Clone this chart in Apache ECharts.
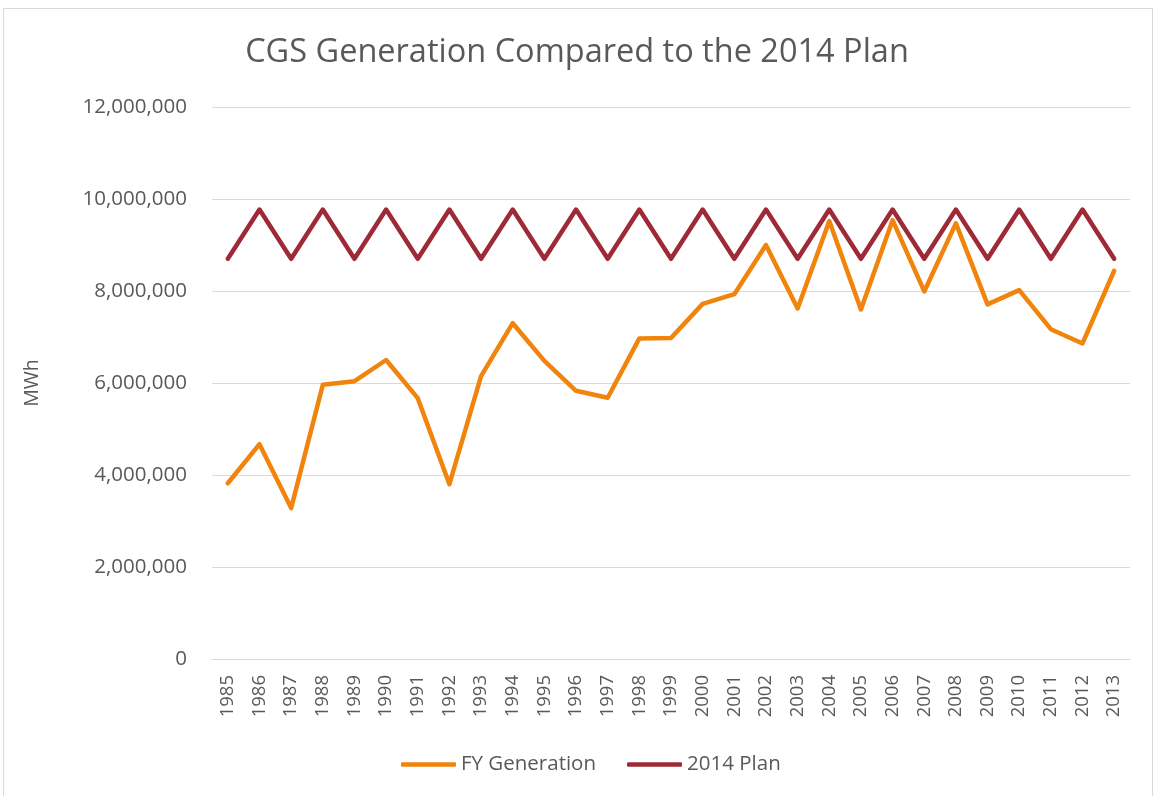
<!DOCTYPE html>
<html>
<head>
    <meta charset="UTF-8">
    <title>CGS Generation</title>
    <style>
        * {
            margin: 0;
            padding: 0
        }

        body {
            background: #fff;
        }

        .frame {
            position: absolute;
            left: 3px;
            top: 8px;
            width: 1148px;
            height: 792px;
            border: 1px solid #d9d9d9;
        }

        .chart {
            position: absolute;
            left: 0;
            top: 0;
            width: 1154px;
            height: 796px;
        }
    </style>
</head>
<body>
<div class="frame"></div>
<div class="chart" id="chart"></div>
<script type="text/javascript" src="https://cdn.jsdelivr.net/npm/echarts@6/dist/echarts.min.js"></script>
<script type="text/javascript">
    // 年份
    var years = ['1985', '1986', '1987', '1988', '1989', '1990', '1991', '1992', '1993', '1994',
        '1995', '1996', '1997', '1998', '1999', '2000', '2001', '2002', '2003', '2004',
        '2005', '2006', '2007', '2008', '2009', '2010', '2011', '2012', '2013'];
    // 实际发电量
    var fyGeneration = [3820000, 4670000, 3280000, 5960000, 6040000, 6500000, 5670000, 3800000, 6150000, 7300000,
        6480000, 5830000, 5680000, 6970000, 6980000, 7720000, 7930000, 9000000, 7620000, 9520000,
        7600000, 9540000, 7990000, 9470000, 7710000, 8020000, 7170000, 6860000, 8440000];
    // 2014计划
    var plan2014 = [8700000, 9770000, 8700000, 9770000, 8700000, 9770000, 8700000, 9770000, 8700000, 9770000,
        8700000, 9770000, 8700000, 9770000, 8700000, 9770000, 8700000, 9770000, 8700000, 9770000,
        8700000, 9770000, 8700000, 9770000, 8700000, 9770000, 8700000, 9770000, 8700000];

    var font = 'Open Sans';
    var textColor = '#595959';

    var myChart = echarts.init(document.getElementById('chart'));
    var option = {
        animation: false,
        title: {
            text: 'CGS Generation Compared to the 2014 Plan',
            left: 'center',
            top: 31,
            textStyle: {
                fontFamily: font,
                fontSize: 32.5,
                fontWeight: 'normal',
                color: textColor
            }
        },
        legend: {
            bottom: 16,
            left: 396,
            itemGap: 31,
            itemWidth: 55,
            itemHeight: 4.5,
            icon: 'roundRect',
            textStyle: {
                fontFamily: font,
                fontSize: 20.5,
                color: textColor
            },
            data: ['FY Generation', '2014 Plan']
        },
        grid: {
            left: 212,
            right: 24,
            top: 107,
            bottom: 137
        },
        xAxis: {
            type: 'category',
            data: years,
            boundaryGap: true,
            axisLine: {lineStyle: {color: '#d9d9d9', width: 1}},
            axisTick: {show: false},
            axisLabel: {
                rotate: 90,
                interval: 0,
                margin: 16,
                fontFamily: font,
                fontSize: 18.5,
                color: textColor
            }
        },
        yAxis: {
            type: 'value',
            min: 0,
            max: 12000000,
            interval: 2000000,
            name: 'MWh',
            nameLocation: 'middle',
            nameGap: 170,
            nameTextStyle: {
                fontFamily: font,
                fontSize: 19.5,
                color: textColor
            },
            axisLine: {show: false},
            axisTick: {show: false},
            splitLine: {lineStyle: {color: '#d9d9d9', width: 1}},
            axisLabel: {
                margin: 25,
                fontFamily: font,
                fontSize: 20.5,
                color: textColor,
                formatter: function (v) {
                    return v.toLocaleString('en-US');
                }
            }
        },
        series: [
            {
                name: 'FY Generation',
                type: 'line',
                data: fyGeneration,
                showSymbol: false,
                symbol: 'none',
                itemStyle: {color: '#f0840c'},
                lineStyle: {color: '#f0840c', width: 4.5, cap: 'round', join: 'round'}
            },
            {
                name: '2014 Plan',
                type: 'line',
                data: plan2014,
                showSymbol: false,
                symbol: 'none',
                itemStyle: {color: '#9e2a37'},
                lineStyle: {color: '#9e2a37', width: 4.5, cap: 'round', join: 'round'}
            }
        ]
    };
    myChart.setOption(option);
</script>
</body>
</html>
